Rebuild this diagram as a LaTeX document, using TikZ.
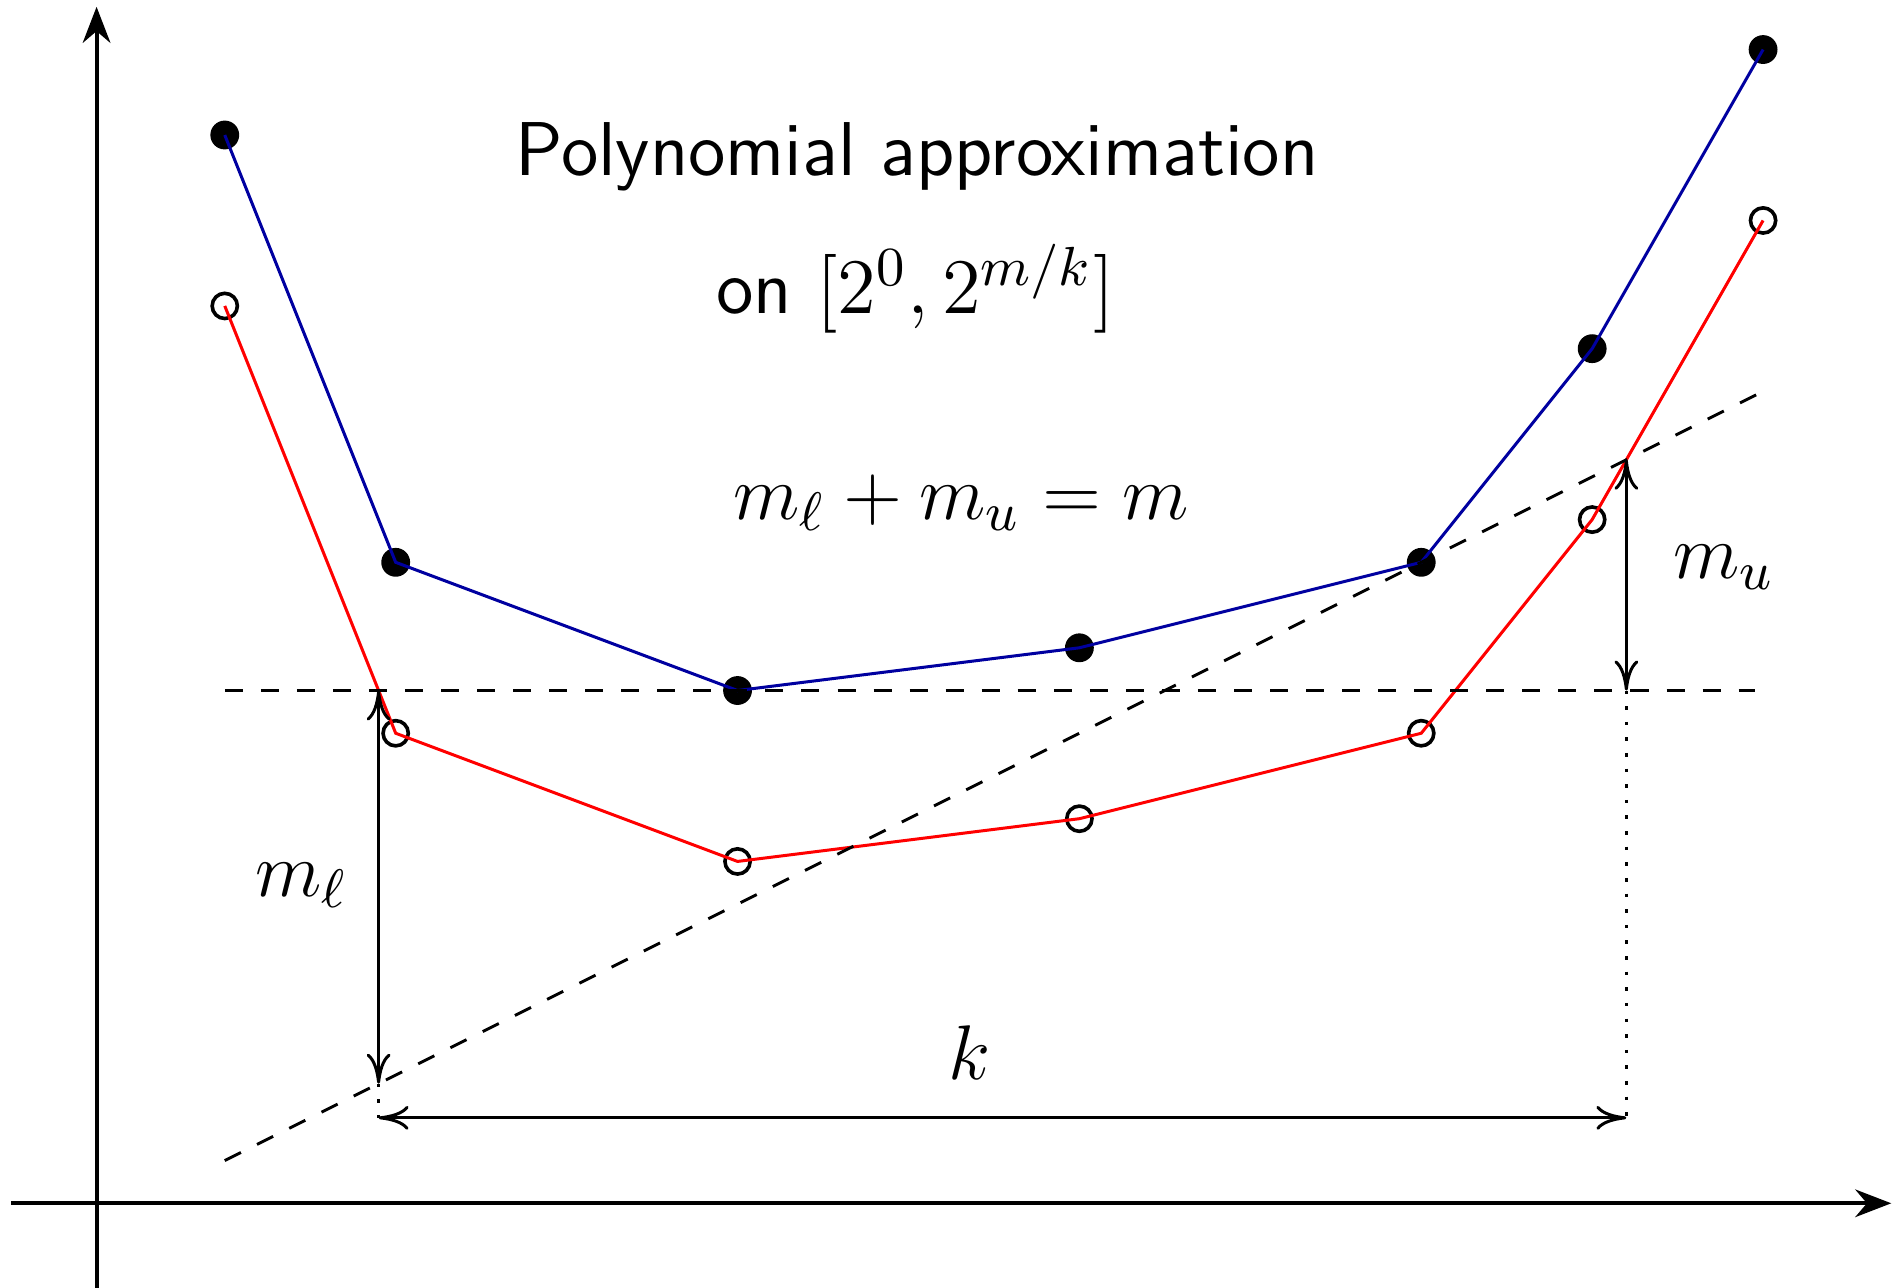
\RequirePackage{fix-cm}
\documentclass[tikz,border=0pt]{standalone}
\usepackage{amsmath}
\usetikzlibrary{arrows.meta}
\definecolor{navy}{RGB}{0,0,160}

\begin{document}
\begin{tikzpicture}[line width=0.5pt,
  dot/.style={circle,fill=black,inner sep=0pt,minimum size=4.8pt},
  hole/.style={circle,draw=black,line width=0.6pt,inner sep=0pt,minimum size=4.2pt},
  axis/.style={line width=0.65pt,-{Stealth[length=6pt,width=4.6pt]}},
  span/.style={{To[length=5pt,width=4pt]}-{To[length=5pt,width=4pt]}},
  lbl/.style={font=\fontsize{12.9}{16}\selectfont},
  words/.style={font=\sffamily\fontsize{12.7}{15}\selectfont}]

\useasboundingbox (-0.565,-0.494) rectangle (10.51,7.04);

% axes
\draw[axis] (-0.5,0) -- (10.5,0);
\draw[axis] (0,-0.6) -- (0,7);

% sample points: upper (blue) and lower (red) curves
\foreach \n/\x/\y in {1/0.75/6.25, 2/1.75/3.75, 3/3.75/3, 4/5.75/3.25, 5/7.75/3.75, 6/8.75/5, 7/9.75/6.75} {
  \coordinate (b\n) at (\x,\y);
  \coordinate (r\n) at (\x,\y-1);
  \node[dot] (bd\n) at (b\n) {};
  \node[hole] (rd\n) at (r\n) {};
}
\draw[navy] (b1) -- (b2) -- (b3) -- (b4) -- (b5) -- (b6) -- (b7);
\draw[red] (r1) -- (r2) -- (r3) -- (r4) -- (r5) -- (r6) -- (r7);

% reference lines
\coordinate (h1) at (0.75,3);
\coordinate (h2) at (9.7,3);
\coordinate (d1) at (0.75,0.25);
\coordinate (d2) at (9.75,4.75);
\draw[dashed] (h1) -- (h2);
\draw[dashed] (d1) -- (d2);

% m_l, m_u and k
\coordinate (lt) at (1.65,3);
\coordinate (lb) at (1.65,0.7);
\coordinate (lk) at (1.65,0.5);
\coordinate (ut) at (8.95,4.35);
\coordinate (ub) at (8.95,3);
\coordinate (uk) at (8.95,0.5);
\draw[span] (lt) -- (lb);
\draw[span] (ut) -- (ub);
\draw[span] (lk) -- (uk);
\draw[dotted,line width=0.6pt] (lb) -- (lk);
\draw[dotted,line width=0.6pt] (ub) -- (uk);

% labels
\node[lbl] (ml) at (1.2,1.86) {$m_\ell$};
\node[lbl] (mu) at (9.52,3.72) {$m_u$};
\node[lbl] (k) at (5.11,0.88) {$k$};
\node[lbl] (eq) at (5.06,4.1) {$m_\ell + m_u = m$};
\node[words] (title) at (4.8,6.12) {Polynomial approximation};
\node[words] (range) at (4.79,5.35) {on \fontsize{13.1}{16}\selectfont$[2^0,2^{m/k}]$};

\end{tikzpicture}
\end{document}
